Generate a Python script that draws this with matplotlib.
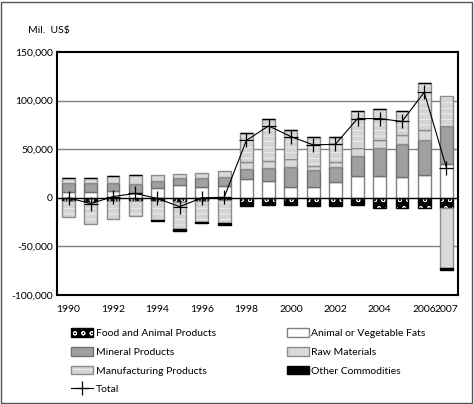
import numpy as np
import matplotlib
matplotlib.use("Agg")
from matplotlib import pyplot as plt
from matplotlib.patches import Patch, Rectangle
from matplotlib.lines import Line2D
from matplotlib.legend_handler import HandlerTuple

plt.rcParams['font.family'] = ['Lato', 'DejaVu Sans']
plt.rcParams['hatch.linewidth'] = 0.6
plt.rcParams['hatch.color'] = 'white'

# values in thousands of US$
years = list(range(1990, 2008))
food = [-2.8, -4.0, -3.0, -3.0, -3.0, -4.0, -3.0, -2.5, -8.0, -7.0,
        -7.0, -8.5, -8.0, -7.5, -10.0, -10.5, -10.0, -10.0]
fats = [5.8, 5.8, 6.8, 5.1, 10.3, 13.4, 11.6, 11.8, 19.5, 16.8,
        11.6, 11.6, 16.0, 22.6, 22.6, 21.0, 23.6, 34.6]
mineral = [9.6, 9.6, 8.6, 9.6, 6.7, 7.1, 8.9, 9.2, 10.5, 14.2,
           20.4, 17.2, 16.0, 20.4, 29.1, 34.8, 36.0, 39.4]
raw = [4.6, 5.1, 7.2, 8.3, 6.6, 4.1, 5.5, 7.0, 7.0, 7.0,
       7.7, 4.2, 5.3, 8.0, 7.9, 8.9, 10.4, -62.0]
manuf = [-17.2, -22.5, -18.3, -15.5, -20.3, -28.5, -21.5, -23.5, 30.0, 43.0,
         30.3, 30.0, 25.7, 38.0, 31.9, 24.3, 48.5, 31.0]
other = [0, 0, 0, 0, -1.0, -1.2, -1.5, -1.5, 0, 0,
         0, 0, 0, 0, 0, 0, 0, -2.0]
tick_years = [1990, 1992, 1994, 1996, 1998, 2000, 2002, 2004, 2006, 2007]

series = [
    ('Food and Animal Products', food, 'black', 'white', 'oo', 'black'),
    ('Animal or Vegetable Fats', fats, 'white', None, None, '#808080'),
    ('Mineral Products', mineral, '#a0a0a0', None, None, '#707070'),
    ('Raw Materials', raw, '#d9d9d9', None, None, '#8c8c8c'),
    ('Manufacturing Products', manuf, '#d4d4d4', '#f2f2f2', '---', '#8c8c8c'),
    ('Other Commodities', other, 'black', None, None, 'black'),
]

x = np.array(years, dtype=float)
w = 0.58

fig = plt.figure(figsize=(4.74, 4.04), dpi=100)
ax = fig.add_axes([57 / 474, 1 - 295 / 404, 401 / 474, 243 / 404])

pos_base = np.zeros(len(years))
neg_base = np.zeros(len(years))
handles = {}
for name, vals, face, hcol, hatch, edge in series:
    v = np.array(vals) * 1000
    base = np.where(v >= 0, pos_base, neg_base)
    if hatch:
        ax.bar(x, v, w, bottom=base, color=face, edgecolor=hcol, hatch=hatch, linewidth=0, zorder=2)
        ax.bar(x, v, w, bottom=base, fill=False, edgecolor=edge, linewidth=1.0, zorder=2)
        handles[name] = (Patch(facecolor=face, edgecolor=hcol, hatch=hatch, linewidth=0),
                         Patch(fill=False, edgecolor=edge, linewidth=1.0))
    else:
        ax.bar(x, v, w, bottom=base, color=face, edgecolor=edge, linewidth=1.0, zorder=2)
        handles[name] = Patch(facecolor=face, edgecolor=edge, linewidth=1.0)
    pos_base = pos_base + np.where(v >= 0, v, 0)
    neg_base = neg_base + np.where(v < 0, v, 0)

total = pos_base + neg_base
ax.plot(x, total, color='black', linewidth=0.8, marker='+', markersize=10,
        markeredgewidth=0.9, zorder=3)
handles['Total'] = Line2D([], [], color='black', linewidth=0.8, marker='+',
                          markersize=10, markeredgewidth=0.9)

ax.set_xlim(1989.48, 2007.52)
ax.set_ylim(-100000, 150000)
ax.set_yticks(np.arange(-100000, 150001, 50000))
ax.set_yticklabels([f'{int(t):,}' for t in np.arange(-100000, 150001, 50000)])
ax.set_xticks(tick_years)
ax.set_xticklabels([str(t) for t in tick_years])
ax.tick_params(length=0, labelsize=7.5, pad=7)
ax.tick_params(axis='y', pad=3)
for t in [-50000, 50000, 100000]:
    ax.axhline(t, color='#808080', linewidth=1.0, zorder=1)
ax.axhline(0, color='black', linewidth=1.0, zorder=2.5)
for s in ax.spines.values():
    s.set_linewidth(1.5)
    s.set_color('black')

fig.text(28 / 474, 1 - 30 / 404, 'Mil.  US$', fontsize=7.5, va='center', ha='left')

order = ['Food and Animal Products', 'Mineral Products', 'Manufacturing Products', 'Total',
         'Animal or Vegetable Fats', 'Raw Materials', 'Other Commodities']
fig.legend([handles[k] for k in order], order, ncol=2, loc='upper left',
           bbox_to_anchor=(66 / 474, 1 - 323 / 404), frameon=False, fontsize=7.5,
           handlelength=2.1, handleheight=0.9, handletextpad=0.25, columnspacing=6.8,
           labelspacing=0.85, borderpad=0,
           handler_map={tuple: HandlerTuple(ndivide=1, pad=0)})

fig.add_artist(Rectangle((0.002, 0.002), 0.994, 0.994, transform=fig.transFigure,
                         fill=False, edgecolor='#555555', linewidth=1.0))

fig.savefig('out.png', dpi=100)
